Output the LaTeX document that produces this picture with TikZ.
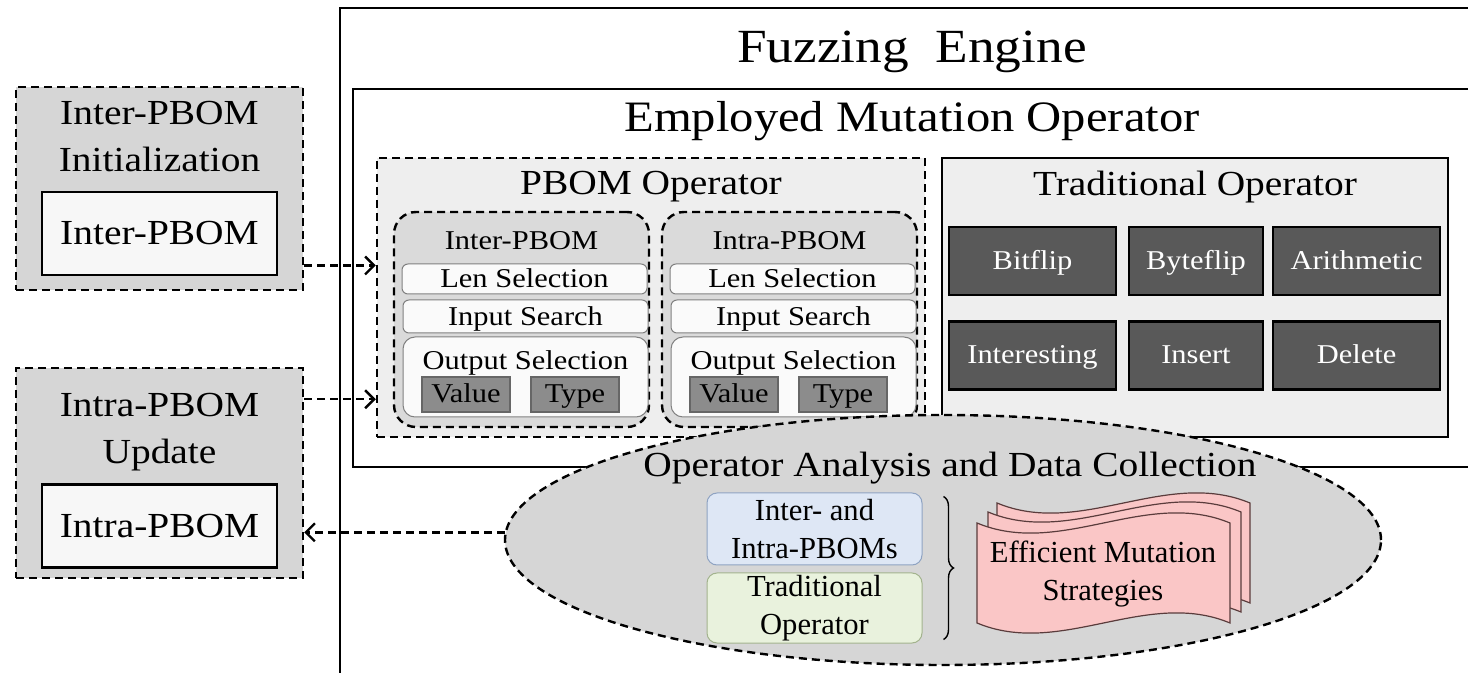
\documentclass[tikz,border=0pt]{standalone}
\usepackage{fontspec}
\setmainfont{Liberation Serif}[FakeStretch=1.12]
\newfontfamily\plainserif{Liberation Serif}
\usepackage{xcolor}
\usetikzlibrary{shapes.geometric, arrows.meta, decorations.pathreplacing}

\definecolor{boxgray}{HTML}{D6D6D6}
\definecolor{panelgray}{HTML}{EEEEEE}
\definecolor{roundgray}{HTML}{DADADA}
\definecolor{slotgray}{HTML}{8C8C8C}
\definecolor{opdark}{HTML}{595959}
\definecolor{pbomblue}{HTML}{DEE7F5}
\definecolor{bluedraw}{HTML}{8FA3C2}
\definecolor{tradgreen}{HTML}{E9F2DD}
\definecolor{greendraw}{HTML}{A3B38E}
\definecolor{sheetpink}{HTML}{FAC6C6}
\definecolor{sheetdraw}{HTML}{5A3C3C}

\newcommand{\fzhuge}{\fontsize{23.8}{28}\selectfont}
\newcommand{\fzbig}{\fontsize{21.7}{26}\selectfont}
\newcommand{\fzmid}{\fontsize{17.6}{23.5}\selectfont}
\newcommand{\fzsmall}{\fontsize{13.6}{16}\selectfont}
\newcommand{\fzell}{\plainserif\fontsize{15.3}{19}\selectfont}

\begin{document}
\begin{tikzpicture}[
  x=0.5pt, y=-0.5pt,
  every node/.style={align=center, inner sep=0pt},
  frame/.style={line width=1.2pt},
  dashline/.style={dash pattern=on 4pt off 2.5pt, line width=1.2pt},
  sidebox/.style={draw, dashline, fill=boxgray, minimum width=143.5pt},
  seedbox/.style={draw, line width=1.3pt, fill=white!97!black, minimum width=117.5pt, minimum height=41.5pt, font=\fzmid},
  opbox/.style={draw, minimum height=139.5pt},
  groupbox/.style={draw, dashline, rounded corners=11pt, fill=roundgray, minimum width=127.5pt, minimum height=107.5pt},
  stepbox/.style={draw=gray, line width=0.5pt, rounded corners=3pt, fill=white!98!black, minimum width=122.5pt, font=\fzsmall, text height=9.3pt, text depth=0.5pt},
  slot/.style={draw=black!60, line width=0.6pt, fill=slotgray, minimum width=44pt, minimum height=17.5pt, font=\fzsmall, text height=9.3pt, text depth=0.8pt},
  opcell/.style={draw, line width=1.3pt, fill=opdark, text=white, minimum height=34pt, font=\fzsmall, text height=9.3pt, text depth=1pt},
  kindbox/.style={draw, line width=0.5pt, rounded corners=5pt, minimum width=107.5pt, font=\fzell},
  sheet/.style={draw=sheetdraw, line width=0.6pt, fill=sheetpink},
  arr/.style={dashline, -{Straight Barb[length=4.5pt, width=9pt]}}
]
\useasboundingbox (0,0) rectangle (1468,673);

% fuzzing engine frame
\draw[frame] (1468,8) -- (340,8) -- (340,673);
\node[font=\fzhuge, anchor=base] (fuzz) at (912,63) {Fuzzing\ \ Engine};
\draw[frame, fill=white] (1468,89) -- (353,89) -- (353,467) -- (1468,467);
\node[font=\fzbig, anchor=base] (emp) at (912,132) {Employed Mutation Operator};

% PBOM operator
\node[opbox, dashline, fill=panelgray, minimum width=274pt] (pbom) at (651,297.5) {};
\node[font=\fzmid, anchor=base] (pbomtitle) at (651,195) {PBOM Operator};
\foreach \nm/\lbl/\cx in {inter/Inter-PBOM/521.5, intra/Intra-PBOM/789.5} {
  \node[groupbox] (\nm) at (\cx,319.5) {};
  \node[font=\fzsmall, anchor=base] (\nm title) at (\cx,250) {\lbl};
  \node[stepbox, minimum height=15pt] (\nm len) at (\cx+3,279) {Len Selection};
  \node[stepbox, minimum height=16.5pt] (\nm inp) at (\cx+4,316.5) {Input Search};
  \node[stepbox, rounded corners=6pt, minimum height=40pt] (\nm out) at (\cx+4,377) {};
  \node[font=\fzsmall, anchor=base] (\nm outtitle) at (\cx+4,370) {Output Selection};
  \node[slot] (\nm val) at (\cx-55.5,394.5) {Value};
  \node[slot] (\nm typ) at (\cx+53.5,394.5) {Type};
}

% traditional operator
\node[opbox, line width=1.2pt, fill=panelgray, minimum width=253pt] (trad) at (1195,297.5) {};
\node[font=\fzmid, anchor=base] (tradtitle) at (1195,196) {Traditional Operator};
\foreach \nm/\lbl/\cx/\cy/\w in {bit/Bitflip/1032.5/261/83.5, byte/Byteflip/1196/261/67,
    arith/Arithmetic/1356.5/261/83.5, intr/Interesting/1032.5/355.5/83.5,
    ins/Insert/1196/355.5/67, del/Delete/1356.5/355.5/83.5}
  \node[opcell, minimum width=\w pt] (\nm) at (\cx,\cy) {\lbl};

% analysis ellipse
\node[draw, ellipse, dashline, fill=boxgray, minimum width=438pt, minimum height=125pt] (oadc) at (943,540) {};
\node[font=\fzmid, anchor=base] (oadctitle) at (950,477) {Operator Analysis and Data Collection};
\node[kindbox, fill=pbomblue, draw=bluedraw, minimum height=36pt] (kinds) at (814.5,529) {Inter- and\\Intra-PBOMs};
\node[kindbox, fill=tradgreen, draw=greendraw, minimum height=35pt] (tradk) at (814.5,608) {Traditional\\Operator};
\draw[decorate, decoration={brace, amplitude=5pt}, line width=0.7pt]
  ([xshift=10.5pt, yshift=-2pt]kinds.north east) -- ([xshift=10.5pt, yshift=2pt]tradk.south east);
\foreach \d in {20,11,0}
  \draw[sheet] (977+\d,523-\d) .. controls (1061+\d,558-\d) and (1146+\d,488-\d) .. (1230+\d,523-\d)
    -- (1230+\d,623-\d) .. controls (1146+\d,588-\d) and (1061+\d,658-\d) .. (977+\d,623-\d) -- cycle;
\node[font=\fzell] (strat) at (1103,574) {Efficient Mutation\\Strategies};

% seed boxes on the left
\node[sidebox, minimum height=101.5pt] (initbox) at (159.5,188.5) {};
\node[font=\fzmid] (inittitle) at (159.5,136.5) {Inter-PBOM\\Initialization};
\node[seedbox] (interseed) at (159.5,233.5) {Inter-PBOM};
\node[sidebox, minimum height=105pt] (updbox) at (159.5,473) {};
\node[font=\fzmid] (updtitle) at (159.5,432) {Intra-PBOM\\Update};
\node[seedbox] (intraseed) at (159.5,526) {Intra-PBOM};

\draw[arr] (initbox.332.25) -- (initbox.332.25 -| pbom.west);
\draw[arr] (updbox.27.6) -- (updbox.27.6 -| pbom.west);
\draw[arr] (oadc.179.2) -- (oadc.179.2 -| updbox.east);
\end{tikzpicture}
\end{document}
